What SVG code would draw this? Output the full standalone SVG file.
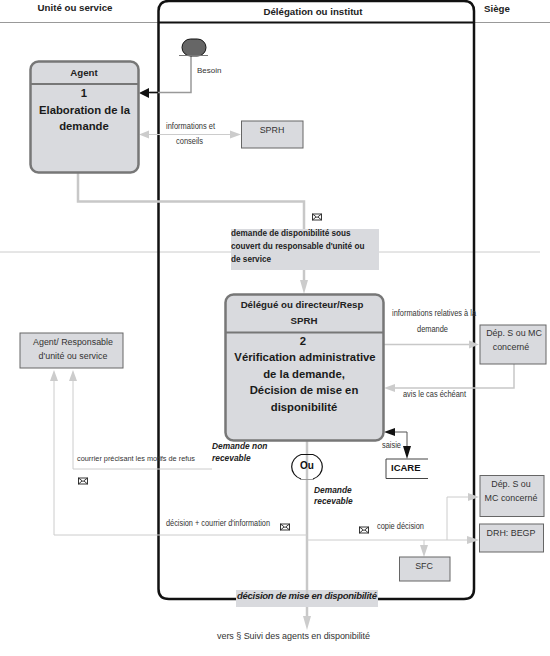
<svg xmlns="http://www.w3.org/2000/svg" width="550" height="656" viewBox="0 0 550 656">
<style>
text{font-family:"Liberation Sans",Arial,sans-serif;fill:#222}
.h{font-size:9.700px;font-weight:bold;text-anchor:middle}
.t{font-size:11.300px;font-weight:bold;text-anchor:middle;fill:#1a1a1a}
.s{font-size:9px;fill:#333}
.d{font-size:8.200px;font-weight:bold;fill:#222}
.b{font-size:8.900px;text-anchor:middle;fill:#333}
.bi{font-size:8.400px;font-weight:bold;font-style:italic}
.box{fill:#d9dade;stroke:#666;stroke-width:1}
.proc{fill:#d9dade;stroke:#777;stroke-width:2.500}
.sep{stroke:#777;stroke-width:2}
.c{fill:none;stroke:#ccc;stroke-width:1}
.c2{fill:none;stroke:#c8c8c8;stroke-width:2.500}
.ah{fill:#ccc}
.env{fill:#fff;stroke:#222;stroke-width:.9}
</style>
<defs>
<g id="envelope"><rect class="env" x="-4.500" y="-3" width="9" height="6"/><path class="env" style="fill:none" d="M-4.500-3L0 .5L4.500-3M-4.500 3L-1 0M4.500 3L1 0"/></g>
</defs>
<g id="swimlanes">
<path d="M0 22.500H158M474 22.500H550" fill="none" stroke="#999" stroke-width="1"/>
<path d="M0 252H231M379 252H540" fill="none" stroke="#ccc" stroke-width="1"/>
<path d="M158 22.500H474" fill="none" stroke="#111" stroke-width="2"/>
<path d="M236 599H169Q158.500 599 158.500 589V11Q158.500 1 169 1H464Q474 1 474 11V589Q474 599 464 599H378" fill="none" stroke="#111" stroke-width="2.500"/>
<text class="h" x="75" y="11">Unité ou service</text>
<text class="h" x="313" y="15">Délégation ou institut</text>
<text class="h" x="497" y="12">Siège</text>
</g>
<g id="connectors">
<path class="c2" d="M191 56V92.500H150" style="stroke-width:1.500;stroke:#999"/>
<path d="M148 92.500H158" stroke="#111" stroke-width="1.500"/>
<path d="M139 93L149 88V98Z" fill="#111"/>
<path class="c" d="M148 134.500H232"/>
<path class="ah" d="M139 134.500L149 130.500V138.500ZM241 134.500L230 130.500V138.500Z"/>
<path class="c2" d="M78 172V201.500H304V229"/>
<path class="c2" d="M304 270V285"/>
<path class="ah" d="M304 294L300 280H308Z"/>
<path class="c2" d="M384 344.500H470" style="stroke-width:1.500"/>
<path class="ah" d="M479 344.500L469 340.500V348.500Z"/>
<path class="c2" d="M514 364V388H394" style="stroke-width:1.500"/>
<path class="ah" d="M384 388L395 384V392Z"/>
<path d="M395 432H407V450" fill="none" stroke="#555" stroke-width="1"/>
<path d="M384 432L395 428V436ZM407 459L403 446H411Z" fill="#111"/>
<path class="c2" d="M307 441V620"/>
<path class="ah" d="M307 630L303 616H311Z"/>
<path class="c" d="M212 469H73V375"/>
<path class="ah" d="M73 370L69 381H77Z"/>
<path class="c" d="M307 535H54V375"/>
<path class="ah" d="M54 370L50 381H58Z"/>
<path class="c" d="M307 540H470M447 540V497H470M424 540V548"/>
<path class="ah" d="M479 497L468 493V501ZM479 540L467 536V544ZM424 557L420 545H428Z"/>
</g>
<g id="start">
<rect x="182" y="39" width="24" height="17" rx="8.500" fill="#666" stroke="#111" stroke-width="1"/>
<path d="M179 55.500H208" stroke="#777" stroke-width="1"/>
<text class="s" x="197" y="73" style="font-size:8px">Besoin</text>
</g>
<g id="agent">
<rect class="proc" x="30.500" y="61.500" width="108" height="111" rx="8"/>
<path class="sep" d="M31 84H138"/>
<text class="h" x="84" y="76">Agent</text>
<text class="t" x="84" y="97">1</text>
<text class="t" x="84.500" y="114">Elaboration de la</text>
<text class="t" x="84" y="130">demande</text>
</g>
<g id="sprh">
<rect class="box" x="241.500" y="121" width="61.500" height="27"/>
<text class="b" x="272" y="133">SPRH</text>
</g>
<g id="demande">
<rect x="231" y="229" width="148" height="41" fill="#d9dade"/>
<text x="231" y="236" class="d">demande de disponibilité sous</text>
<text x="231" y="249" class="d">couvert du responsable d'unité ou</text>
<text x="231" y="262" class="d">de service</text>
<use href="#envelope" x="317" y="217"/>
</g>
<g id="verification">
<rect class="proc" x="225.500" y="294.500" width="158" height="146" rx="8"/>
<path class="sep" d="M226 332.500H383"/>
<text class="h" x="302" y="308">Délégué ou directeur/Resp</text>
<text class="h" x="304" y="324">SPRH</text>
<text class="t" x="303" y="345">2</text>
<text class="t" x="305" y="361">Vérification administrative</text>
<text class="t" x="304" y="378">de la demande,</text>
<text class="t" x="304" y="394">Décision de mise en</text>
<text class="t" x="304" y="411">disponibilité</text>
</g>
<g id="dep1">
<rect class="box" x="480" y="325" width="66" height="39"/>
<text class="b" x="514" y="336">Dép. S ou MC</text>
<text class="b" x="511" y="350">concerné</text>
</g>
<g id="labels">
<text class="s" x="166" y="129" textLength="49" lengthAdjust="spacingAndGlyphs">informations et</text>
<text class="s" x="176" y="144" textLength="27" lengthAdjust="spacingAndGlyphs">conseils</text>
<text class="s" x="392" y="316" textLength="84" lengthAdjust="spacingAndGlyphs">informations relatives à la</text>
<text class="s" x="417" y="332" textLength="31" lengthAdjust="spacingAndGlyphs">demande</text>
<text class="s" x="403" y="397" textLength="63" lengthAdjust="spacingAndGlyphs">avis le cas échéant</text>
<text class="s" x="382" y="448" textLength="19" lengthAdjust="spacingAndGlyphs">saisie</text>
<text class="s" x="77" y="461" style="font-size:7.800px" textLength="118" lengthAdjust="spacingAndGlyphs">courrier précisant les motifs de refus</text>
<text class="s" x="166" y="526" textLength="104" lengthAdjust="spacingAndGlyphs">décision + courrier d'information</text>
<text class="s" x="377" y="529" textLength="47" lengthAdjust="spacingAndGlyphs">copie décision</text>
<text class="bi" x="212" y="449">Demande non</text>
<text class="bi" x="212" y="461">recevable</text>
<text class="bi" x="314" y="493">Demande</text>
<text class="bi" x="314" y="504">recevable</text>
<use href="#envelope" x="83" y="481"/>
<use href="#envelope" x="285" y="527"/>
<use href="#envelope" x="364" y="530"/>
</g>
<g id="agent-resp">
<rect class="box" x="20" y="333" width="103" height="35"/>
<text class="b" x="73" y="345">Agent/ Responsable</text>
<text class="b" x="73" y="359">d'unité ou service</text>
</g>
<g id="ou">
<path d="M301 454.500A14 13 0 0 0 301 479M313 454.500A14 13 0 0 1 313 479M301 454.500H313" fill="#fff" stroke="#111" stroke-width="1.200"/>
<path d="M300 479.500H314" stroke="#999" stroke-width="1"/>
<text x="307" y="469" style="font-size:10px;font-weight:bold;text-anchor:middle;fill:#111">Ou</text>
</g>
<g id="icare">
<path d="M386 478.500V459H428M386 478.500H428" fill="none" stroke="#444" stroke-width="1"/>
<text x="391" y="471" style="font-size:9.500px;font-weight:bold;fill:#111">ICARE</text>
</g>
<g id="dep2">
<rect class="box" x="480" y="475.500" width="64" height="41"/>
<text class="b" x="511" y="487">Dép. S ou</text>
<text class="b" x="511" y="501">MC concerné</text>
</g>
<g id="drh">
<rect class="box" x="479.500" y="524" width="64" height="28"/>
<text class="b" x="511" y="536">DRH: BEGP</text>
</g>
<g id="sfc">
<rect class="box" x="399.500" y="557" width="50.500" height="24"/>
<text class="b" x="424" y="569">SFC</text>
</g>
<g id="decision">
<rect x="236" y="590" width="142" height="17" fill="#d9dade"/>
<path d="M307 590V598" stroke="#c8c8c8" stroke-width="2.500"/>
<text class="bi" x="237" y="599" style="font-size:9.500px" textLength="140">décision de mise en disponibilité</text>
<text x="217" y="639" style="font-size:9px;fill:#333" textLength="153">vers § Suivi des agents en disponibilité</text>
</g>
</svg>
